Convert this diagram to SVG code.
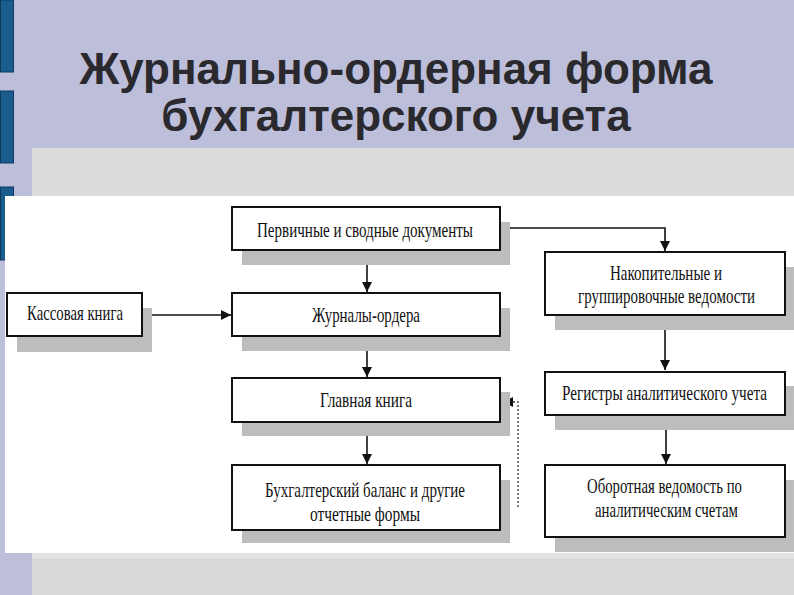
<svg xmlns="http://www.w3.org/2000/svg" width="794" height="595" viewBox="0 0 794 595">
<style>
.box{fill:#fff;stroke:#111;stroke-width:2}
.sh{fill:#bdbdbd}
.t{font-family:"Liberation Serif","Times New Roman",serif;font-size:17px;fill:#111}
.ttl{font-family:"Liberation Sans",Arial,sans-serif;font-weight:bold;font-size:44px;fill:#2a2a2e;text-anchor:middle}
.ln{fill:none;stroke:#111;stroke-width:1.6}
.dt{fill:none;stroke:#444;stroke-width:1.4;stroke-dasharray:2 2}
</style>
<defs>
<marker id="ah" viewBox="0 0 10 10" refX="10" refY="5" markerWidth="10" markerHeight="10" markerUnits="userSpaceOnUse" orient="auto">
<path d="M0,0 L10,5 L0,10 Z" fill="#111"/>
</marker>
</defs>
<g id="background">
<rect x="0" y="0" width="794" height="595" fill="#bdbeda"/>
<rect x="32" y="148" width="762" height="48" fill="#dcdcdc"/>
<rect x="32" y="553" width="762" height="42" fill="#dadada"/>
<rect x="32" y="553" width="762" height="5" fill="#e4e4e4"/>
<rect x="0.5" y="0" width="13" height="72" fill="#1b5c8e" stroke="#0e3a5e"/>
<rect x="0.5" y="91" width="13" height="72" fill="#1b5c8e" stroke="#0e3a5e"/>
<rect x="0.5" y="187" width="13" height="73" fill="#1b5c8e" stroke="#0e3a5e"/>
<rect x="5" y="196" width="789" height="357" fill="#ffffff"/>
</g>
<g id="title">
<text class="ttl" x="396" y="84">Журнально-ордерная форма</text>
<text class="ttl" x="396" y="131">бухгалтерского учета</text>
</g>
<g id="connectors">
<path class="ln" d="M367,250 V292" marker-end="url(#ah)"/>
<path class="ln" d="M367,336 V377" marker-end="url(#ah)"/>
<path class="ln" d="M367,422 V464" marker-end="url(#ah)"/>
<path class="ln" d="M142,315 H231" marker-end="url(#ah)"/>
<path class="ln" d="M500,228 H665 V251" marker-end="url(#ah)"/>
<path class="ln" d="M665,315 V370" marker-end="url(#ah)"/>
<path class="ln" d="M666,415 V464" marker-end="url(#ah)"/>
<path class="dt" d="M518,507 V402 H503" marker-end="url(#ah)"/>
</g>
<g id="n1">
<rect class="sh" x="242" y="222" width="268" height="43"/>
<rect class="box" x="232" y="207" width="268" height="43"/>
<text class="t" x="257" y="0" transform="translate(0,237) scale(1,1.25)" textLength="216" lengthAdjust="spacingAndGlyphs">Первичные и сводные документы</text>
</g>
<g id="n2">
<rect class="sh" x="242" y="308" width="268" height="43"/>
<rect class="box" x="232" y="293" width="268" height="43"/>
<text class="t" x="312" y="0" transform="translate(0,322) scale(1,1.25)" textLength="108" lengthAdjust="spacingAndGlyphs">Журналы-ордера</text>
</g>
<g id="n3">
<rect class="sh" x="242" y="392" width="268" height="44"/>
<rect class="box" x="232" y="378" width="268" height="44"/>
<text class="t" x="320" y="0" transform="translate(0,407) scale(1,1.25)" textLength="92" lengthAdjust="spacingAndGlyphs">Главная книга</text>
</g>
<g id="n4">
<rect class="sh" x="242" y="480" width="268" height="63"/>
<rect class="box" x="232" y="465" width="268" height="65"/>
<text class="t" x="265" y="0" transform="translate(0,497) scale(1,1.25)" textLength="200" lengthAdjust="spacingAndGlyphs">Бухгалтерский баланс  и другие</text>
<text class="t" x="310" y="0" transform="translate(0,521) scale(1,1.25)" textLength="110" lengthAdjust="spacingAndGlyphs">отчетные формы</text>
</g>
<g id="n5">
<rect class="sh" x="17" y="308" width="135" height="44"/>
<rect class="box" x="7" y="293" width="135" height="43"/>
<text class="t" x="27" y="0" transform="translate(0,320) scale(1,1.25)" textLength="96" lengthAdjust="spacingAndGlyphs">Кассовая книга</text>
</g>
<g id="n6">
<rect class="sh" x="555" y="267" width="239" height="63"/>
<rect class="box" x="545" y="252" width="240" height="63"/>
<text class="t" x="610" y="0" transform="translate(0,280) scale(1,1.25)" textLength="112" lengthAdjust="spacingAndGlyphs">Накопительные и</text>
<text class="t" x="578" y="0" transform="translate(0,303) scale(1,1.25)" textLength="177" lengthAdjust="spacingAndGlyphs">группировочные ведомости</text>
</g>
<g id="n7">
<rect class="sh" x="555" y="386" width="239" height="44"/>
<rect class="box" x="545" y="372" width="240" height="43"/>
<text class="t" x="562" y="0" transform="translate(0,400) scale(1,1.25)" textLength="205" lengthAdjust="spacingAndGlyphs">Регистры аналитического учета</text>
</g>
<g id="n8">
<rect class="sh" x="555" y="480" width="239" height="72"/>
<rect class="box" x="545" y="465" width="240" height="72"/>
<text class="t" x="587" y="0" transform="translate(0,493) scale(1,1.25)" textLength="155" lengthAdjust="spacingAndGlyphs">Оборотная ведомость по</text>
<text class="t" x="595" y="0" transform="translate(0,517) scale(1,1.25)" textLength="143" lengthAdjust="spacingAndGlyphs">аналитическим счетам</text>
</g>
</svg>
